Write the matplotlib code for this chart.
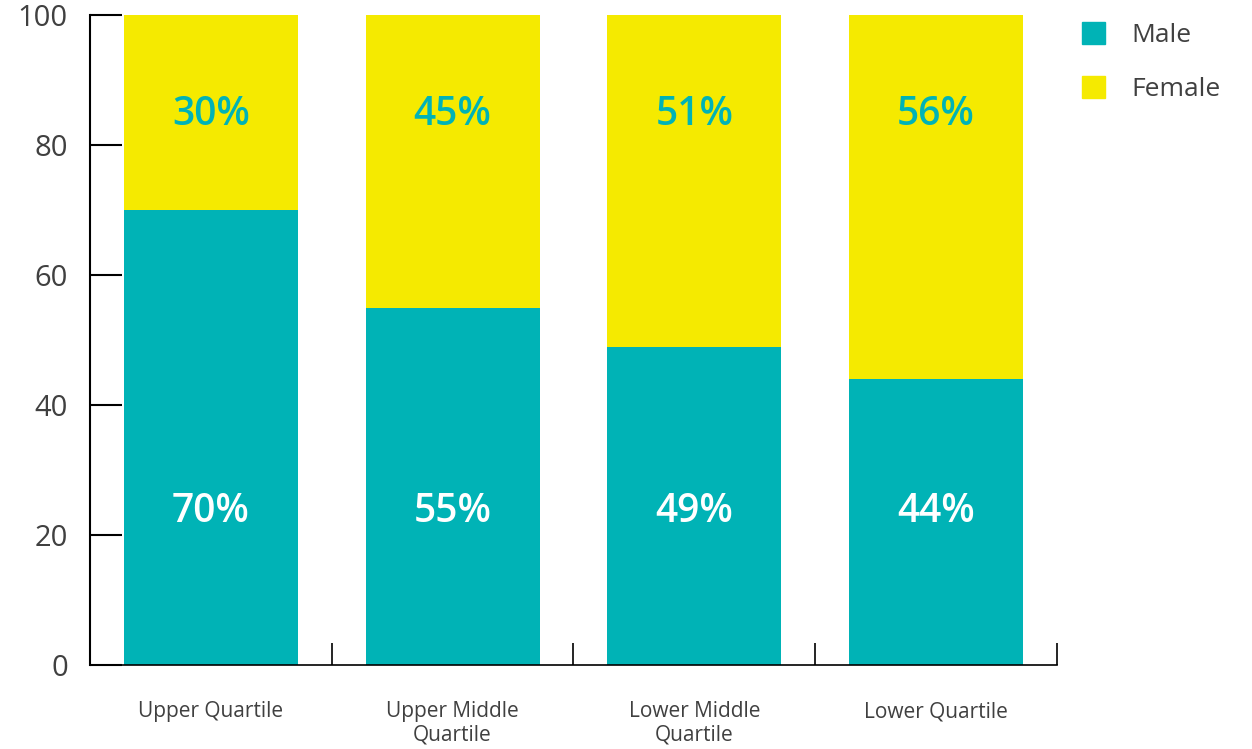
import matplotlib
matplotlib.use("Agg")
import matplotlib.pyplot as plt
from matplotlib.patches import Patch
import numpy as np

categories = ["Upper Quartile", "Upper Middle\nQuartile", "Lower Middle\nQuartile", "Lower Quartile"]
male = [70, 55, 49, 44]
female = [30, 45, 51, 56]

teal = "#00B3B6"
yellow = "#F5EA00"
grey = "#404040"

plt.rcParams['font.family'] = ['Open Sans', 'DejaVu Sans']

fig = plt.figure(figsize=(12.52, 7.49), dpi=100)
ax = fig.add_axes([0.0719, 0.1121, 0.8442 - 0.0719, 0.98 - 0.1121])

x = np.arange(len(categories))
ax.bar(x, male, width=0.72, color=teal)
ax.bar(x, female, width=0.72, bottom=male, color=yellow)

for i in range(len(categories)):
    ax.text(x[i], 23.6, f"{male[i]}%", ha="center", va="center", color="white",
            fontsize=28, fontweight="semibold")
    ax.text(x[i], 84.6, f"{female[i]}%", ha="center", va="center", color=teal,
            fontsize=28, fontweight="semibold")

ax.set_xlim(-0.5, 3.5)
ax.set_ylim(0, 100)
ax.set_yticks([0, 20, 40, 60, 80, 100])
ax.tick_params(axis="y", direction="in", length=23, width=1.5, labelsize=21,
               labelcolor=grey, pad=16)
ax.set_xticks(x)
ax.set_xticklabels(categories)
ax.tick_params(axis="x", length=0, labelsize=15, labelcolor=grey, pad=26)
ax.set_xticks(np.arange(len(categories)) + 0.5, minor=True)
ax.tick_params(axis="x", which="minor", direction="in", length=16, width=1.2)
for lab in ax.get_xticklabels():
    lab.set_linespacing(1.15)

for s in ["top", "right"]:
    ax.spines[s].set_visible(False)
ax.spines["left"].set_linewidth(1.5)
ax.spines["bottom"].set_linewidth(1.2)

handles = [Patch(color=teal, label="Male"), Patch(color=yellow, label="Female")]
fig.legend(handles=handles, loc="upper left", bbox_to_anchor=(0.845, 1.002),
           frameon=False, fontsize=19, labelcolor=grey, handlelength=0.9,
           handleheight=0.9, handletextpad=1.0, labelspacing=1.05)

fig.savefig("out.png", dpi=100)
